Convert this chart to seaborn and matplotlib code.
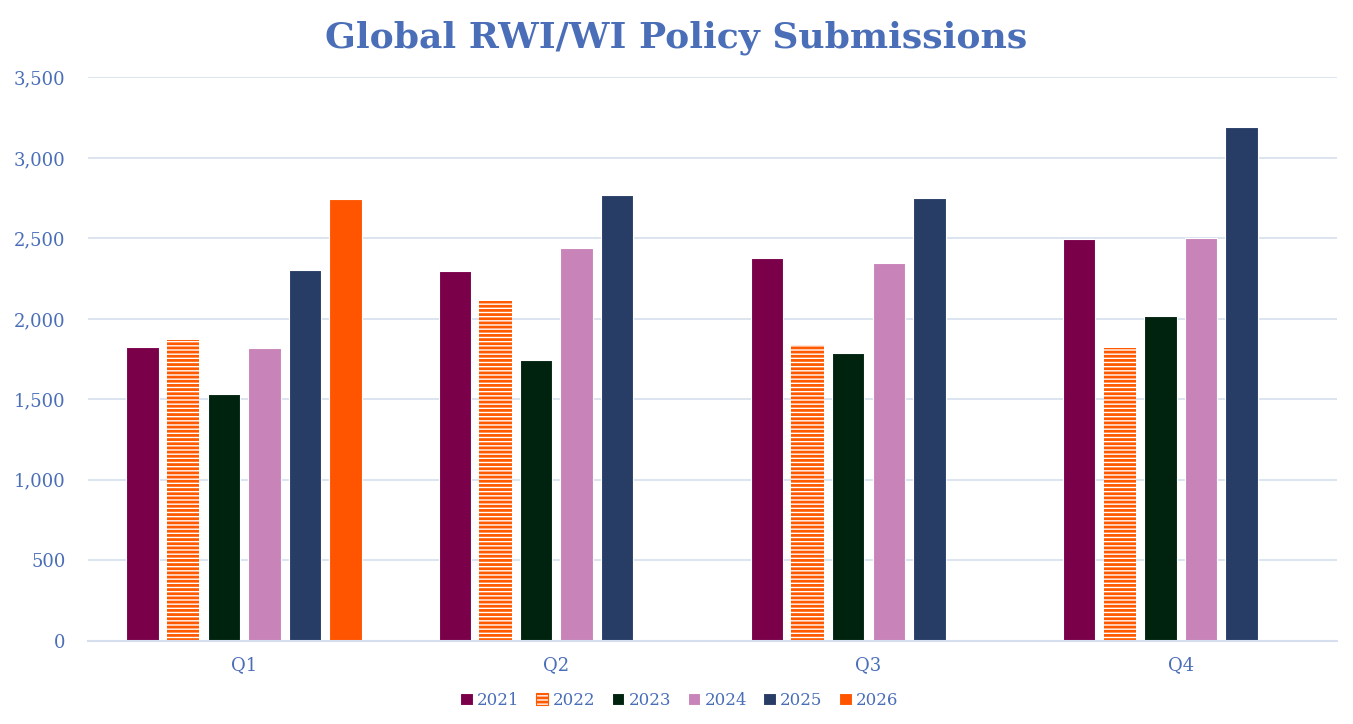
import pandas as pd
import numpy as np
import matplotlib
matplotlib.use("Agg")
import matplotlib.pyplot as plt
import seaborn as sns

quarters = ["Q1", "Q2", "Q3", "Q4"]
years = ["2021", "2022", "2023", "2024", "2025", "2026"]
v2021 = [1825, 2295, 2378, 2495]
v2022 = [1868, 2110, 1837, 1818]
v2023 = [1533, 1744, 1787, 2017]
v2024 = [1818, 2440, 2346, 2501]
v2025 = [2302, 2768, 2749, 3190]
v2026 = [2743, np.nan, np.nan, np.nan]

colors = ["#7a0049", "#ff5a00", "#00230f", "#c884b8", "#283d66", "#ff5500"]
text_blue = "#4a6eb8"
grid_col = "#d6dfee"

series = [v2021, v2022, v2023, v2024, v2025, v2026]
rows = []
for y, vals in zip(years, series):
    for q, v in zip(quarters, vals):
        rows.append({"quarter": q, "year": y, "value": v})
df = pd.DataFrame(rows)

sns.set_style("white")
plt.rcParams["font.family"] = ["DejaVu Serif"]
plt.rcParams["hatch.linewidth"] = 2.0

fig, ax = plt.subplots(figsize=(13.53, 7.24), dpi=100)
fig.subplots_adjust(left=0.065, right=0.988, top=0.893, bottom=0.115)

sns.barplot(data=df, x="quarter", y="value", hue="year", hue_order=years,
            palette=colors, saturation=1, width=0.78, gap=0.2, ax=ax,
            legend=True, linewidth=0.8, edgecolor="#ffffff")

# 2022 bars: orange horizontal stripes on white
for bar in ax.containers[1]:
    bar.set_facecolor("white")
    bar.set_edgecolor(colors[1])
    bar.set_hatch("----")
    bar.set_linewidth(0)

ax.set_ylim(0, 3500)
ax.set_yticks(range(0, 3501, 500))
ax.yaxis.set_major_formatter(matplotlib.ticker.FuncFormatter(lambda v, p: f"{int(v):,}"))
ax.grid(axis="y", color=grid_col, linewidth=1.2)
ax.set_axisbelow(True)
for s in ["left", "right", "top"]:
    ax.spines[s].set_visible(False)
ax.spines["bottom"].set_color(grid_col)
ax.spines["bottom"].set_linewidth(1.5)
ax.tick_params(axis="y", length=0, labelsize=13, colors=text_blue, pad=16)
ax.tick_params(axis="x", length=0, labelsize=13, colors=text_blue, pad=11)
ax.set_xlabel("")
ax.set_ylabel("")

fig.suptitle("Global RWI/WI Policy Submissions", x=0.5, y=0.972, fontsize=26,
             fontweight="bold", color=text_blue)

handles, labels = ax.get_legend_handles_labels()
ax.get_legend().remove()
handles[1].set_facecolor("white")
handles[1].set_edgecolor(colors[1])
handles[1].set_hatch("----")
fig.legend(handles, labels, loc="center", bbox_to_anchor=(0.502, 0.033),
           ncol=6, frameon=False, fontsize=12, handlelength=0.75, handleheight=0.75,
           handletextpad=0.25, columnspacing=1.0, labelcolor=text_blue)

fig.savefig("out.png", dpi=100)
